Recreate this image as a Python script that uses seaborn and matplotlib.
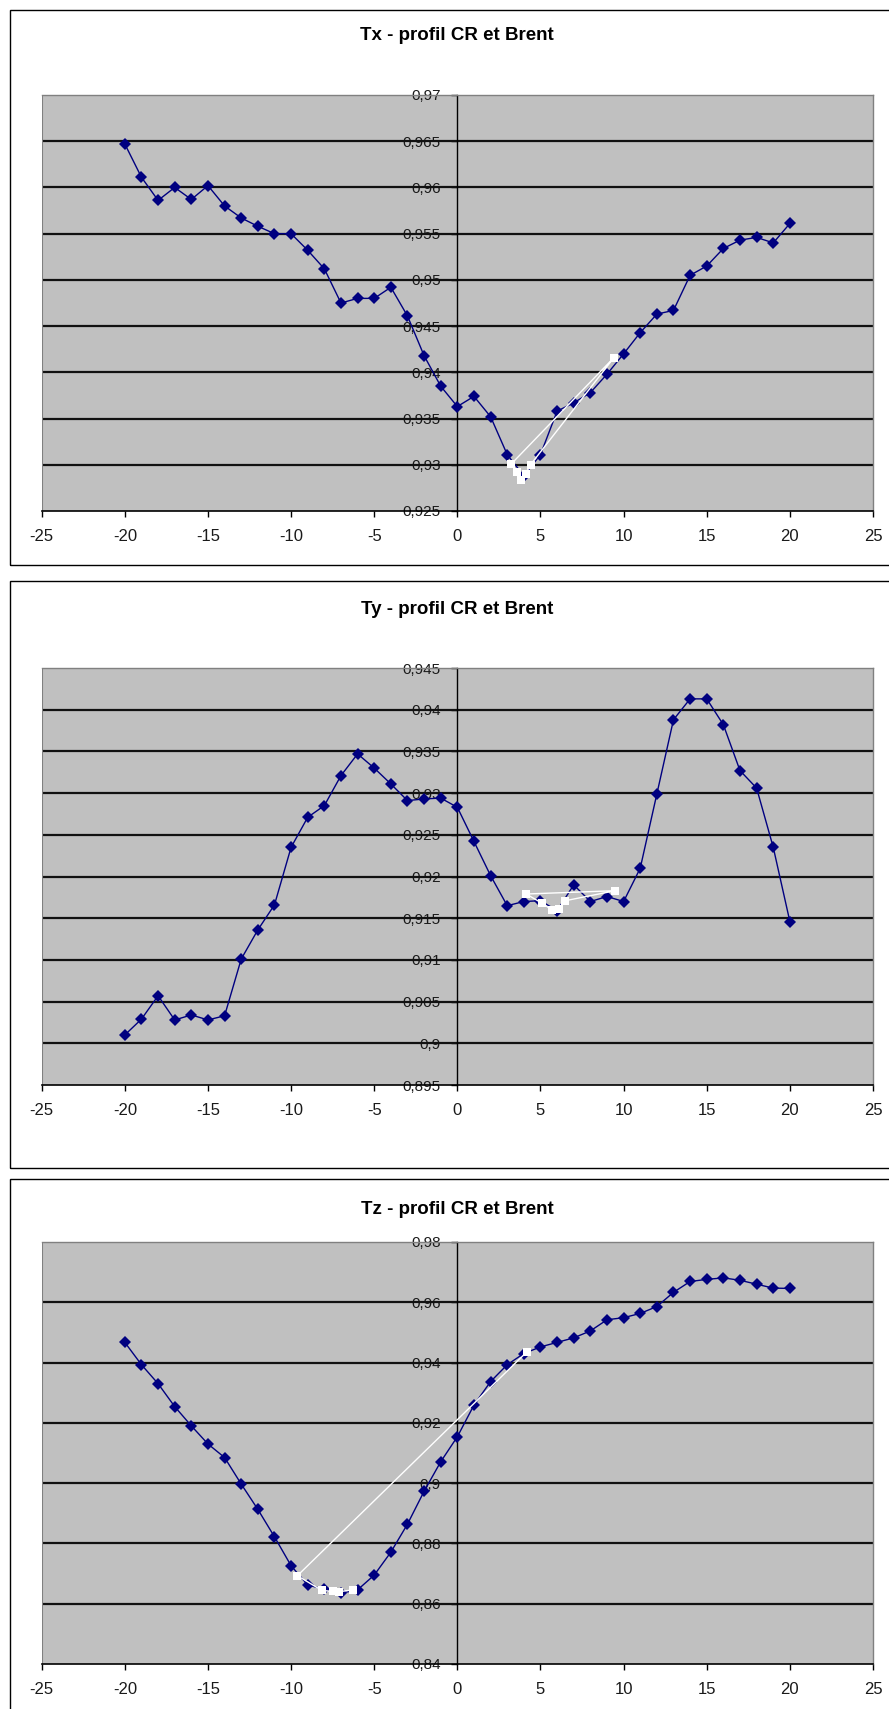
import pandas as pd
import matplotlib
matplotlib.use('Agg')
import matplotlib.pyplot as plt
from matplotlib.patches import Rectangle
from matplotlib.ticker import FuncFormatter
import seaborn as sns

sns.set_theme(style='white')
plt.rcParams['font.family'] = ['Liberation Sans', 'DejaVu Sans']
plt.rcParams['axes.unicode_minus'] = False

# positions -20 .. 20 (profil CR)
positions = [-20, -19, -18, -17, -16, -15, -14, -13, -12, -11, -10, -9, -8, -7, -6, -5, -4, -3, -2, -1,
             0, 1, 2, 3, 4, 5, 6, 7, 8, 9, 10, 11, 12, 13, 14, 15, 16, 17, 18, 19, 20]

tx_cr = [0.9647, 0.9611, 0.9586, 0.9600, 0.9587, 0.9602, 0.9580, 0.9567, 0.9558, 0.9550,
         0.9550, 0.9532, 0.9512, 0.9475, 0.9480, 0.9480, 0.9492, 0.9461, 0.9418, 0.9385,
         0.9363, 0.9374, 0.9352, 0.9311, 0.9288, 0.9311, 0.9358, 0.9367, 0.9378, 0.9398,
         0.9420, 0.9443, 0.9463, 0.9467, 0.9505, 0.9515, 0.9534, 0.9543, 0.9546, 0.9540, 0.9561]
ty_cr = [0.9010, 0.9029, 0.9057, 0.9028, 0.9034, 0.9028, 0.9033, 0.9101, 0.9136, 0.9166,
         0.9235, 0.9271, 0.9285, 0.9321, 0.9347, 0.9330, 0.9311, 0.9291, 0.9293, 0.9294,
         0.9283, 0.9242, 0.9201, 0.9165, 0.9170, 0.9171, 0.9159, 0.9190, 0.9170, 0.9176,
         0.9170, 0.9210, 0.9299, 0.9388, 0.9413, 0.9413, 0.9382, 0.9327, 0.9306, 0.9235, 0.9146]
tz_cr = [0.9467, 0.9393, 0.9330, 0.9254, 0.9190, 0.9130, 0.9085, 0.8997, 0.8913, 0.8822,
         0.8726, 0.8662, 0.8648, 0.8635, 0.8646, 0.8695, 0.8771, 0.8864, 0.8973, 0.9071,
         0.9154, 0.9259, 0.9337, 0.9393, 0.9430, 0.9452, 0.9467, 0.9482, 0.9505, 0.9542,
         0.9549, 0.9563, 0.9586, 0.9633, 0.9669, 0.9676, 0.9681, 0.9673, 0.9660, 0.9647, 0.9646]

# Brent points (white series)
tx_brent_x = [9.42, 3.25, 3.60, 3.85, 4.10, 4.40, 9.42]
tx_brent_y = [0.9416, 0.9301, 0.9292, 0.9284, 0.9290, 0.9300, 0.9416]
ty_brent_x = [9.51, 4.14, 5.09, 5.69, 6.09, 6.50, 9.51]
ty_brent_y = [0.9183, 0.9179, 0.9168, 0.9160, 0.9161, 0.9171, 0.9183]
tz_brent_x = [-6.27, -7.10, -7.50, -8.15, -9.62, 4.19]
tz_brent_y = [0.8646, 0.8640, 0.8641, 0.8644, 0.8693, 0.9436]

x_ticks = [-25, -20, -15, -10, -5, 0, 5, 10, 15, 20, 25]
tx_ticks = [0.925, 0.93, 0.935, 0.94, 0.945, 0.95, 0.955, 0.96, 0.965, 0.97]
ty_ticks = [0.895, 0.9, 0.905, 0.91, 0.915, 0.92, 0.925, 0.93, 0.935, 0.94, 0.945]
tz_ticks = [0.84, 0.86, 0.88, 0.9, 0.92, 0.94, 0.96, 0.98]

titles = ['Tx - profil CR et Brent', 'Ty - profil CR et Brent', 'Tz - profil CR et Brent']

W, H = 889, 1709
fig = plt.figure(figsize=(W / 100, H / 100), dpi=100)


def excel_fmt(v, pos):
    s = f'{v:.3f}'.rstrip('0').rstrip('.')
    return s.replace('.', ',')


# layout in pixels: (plot top, plot bottom, title y, border top, border bottom)
layout = [(95, 511, 36, 10, 565),
          (668, 1085, 610, 581, 1168),
          (1242, 1664, 1210, 1179, 1760)]
plot_left, plot_right = 41.7, 873

panels = [(tx_cr, tx_brent_x, tx_brent_y, tx_ticks),
          (ty_cr, ty_brent_x, ty_brent_y, ty_ticks),
          (tz_cr, tz_brent_x, tz_brent_y, tz_ticks)]

for (cr, bx, by, yt), (top, bot, ty, b0, b1), title in zip(panels, layout, titles):
    # white chart frame
    fig.add_artist(Rectangle((10 / W, 1 - b1 / H), (W + 20) / W, (b1 - b0) / H,
                             transform=fig.transFigure, fill=False,
                             edgecolor='black', lw=1))
    ax = fig.add_axes([plot_left / W, 1 - bot / H, (plot_right - plot_left) / W, (bot - top) / H])
    ax.set_facecolor('#C0C0C0')

    for v in yt[1:-1]:
        ax.axhline(v, color='#111111', lw=1.6, zorder=1)

    df = pd.DataFrame({'x': positions, 'y': cr})
    sns.lineplot(data=df, x='x', y='y', ax=ax, color='#000080', lw=1,
                 marker='D', markersize=6, markeredgewidth=0, zorder=3)
    dfb = pd.DataFrame({'x': bx, 'y': by})
    sns.lineplot(data=dfb, x='x', y='y', ax=ax, sort=False, estimator=None,
                 color='white', lw=1, marker='s', markersize=6,
                 markeredgewidth=0, zorder=4)

    ax.set_xlim(x_ticks[0], x_ticks[-1])
    ax.set_ylim(yt[0], yt[-1])
    ax.set_xticks(x_ticks)
    ax.set_yticks(yt)
    ax.yaxis.set_major_formatter(FuncFormatter(excel_fmt))
    ax.set_xlabel('')
    ax.set_ylabel('')
    ax.grid(False)

    ax.spines['left'].set_position(('data', 0))
    ax.spines['left'].set_color('black')
    ax.spines['left'].set_linewidth(1)
    ax.spines['bottom'].set_color('black')
    ax.spines['bottom'].set_linewidth(1.2)
    for s in ['top', 'right']:
        ax.spines[s].set_visible(True)
        ax.spines[s].set_color('#808080')
        ax.spines[s].set_linewidth(1)
    ax.axvline(x_ticks[0], color='#808080', lw=1.5, zorder=1)

    ax.tick_params(axis='y', which='major', direction='out', length=4, width=1,
                   color='black', pad=8, labelsize=11, labelcolor='#1a1a1a', left=True)
    ax.tick_params(axis='x', which='major', direction='out', length=4, width=1,
                   color='black', pad=9, labelsize=12, labelcolor='#1a1a1a', bottom=True)

    fig.text((plot_left + plot_right) / 2 / W, 1 - ty / H, title, ha='center', va='center',
             fontsize=13.5, fontweight='bold', color='black')

fig.savefig('out.png', dpi=100)
